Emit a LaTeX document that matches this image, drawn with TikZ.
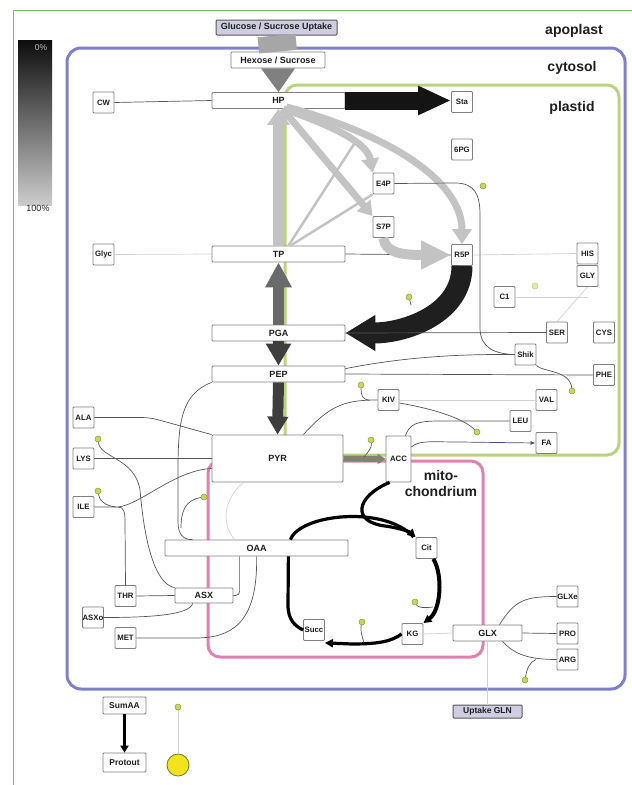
\documentclass[tikz,border=0pt]{standalone}
\usepackage{fontspec}
\setmainfont{Liberation Sans}
\usetikzlibrary{arrows.meta,calc}
\definecolor{ink}{HTML}{1E1E1E}
\definecolor{framegreen}{HTML}{7DBF6E}
\definecolor{cytoblue}{HTML}{7F80CC}
\definecolor{plastgreen}{HTML}{BBD37C}
\definecolor{mitopink}{HTML}{E280B0}
\definecolor{boxline}{HTML}{808080}
\definecolor{fluxlight}{HTML}{C3C3C3}
\definecolor{fluxmid}{HTML}{6A6A6A}
\definecolor{fluxdark}{HTML}{3E3E3E}
\definecolor{linkgray}{HTML}{555555}
\definecolor{faintgray}{HTML}{D2D2D2}
\definecolor{dotfill}{HTML}{C9D65C}
\definecolor{dotline}{HTML}{8E9A3A}
\definecolor{uptakefill}{HTML}{CFCDE2}
\definecolor{sunyellow}{HTML}{F3E31C}

\begin{document}
\begin{tikzpicture}[x=1pt,y=-1pt,
  met/.style={draw=boxline,fill=white,rounded corners=1pt,line width=0.8pt,inner sep=0pt,
    minimum width=21pt,minimum height=21pt,text=ink,font=\bfseries\fontsize{7.8}{8}\selectfont},
  pool/.style={met,minimum width=133pt,minimum height=16pt,font=\bfseries\fontsize{9}{10}\selectfont},
  uptake/.style={pool,fill=uptakefill,draw=ink!75,line width=1pt},
  dot/.style={circle,draw=dotline,fill=dotfill,line width=0.5pt,inner sep=0pt,minimum size=6pt},
  link/.style={draw=linkgray,line width=0.7pt},
  faint/.style={draw=faintgray,line width=0.7pt},
  tca/.style={draw=black,line width=3.2pt},
  region/.style={font=\bfseries\fontsize{14}{15}\selectfont,text=ink}]
  \useasboundingbox (0,0) rectangle (632,785);
  \draw[framegreen,line width=0.8pt] (13,785) -- (13,10.5) -- (632,10.5);

  % legend
  \shade[top color=black!95,bottom color=black!20] (18,40) rectangle (52,205);
  \node[font=\fontsize{8.5}{9}\selectfont,text=black!25] at (41,48) {0\%};
  \node[font=\fontsize{9}{10}\selectfont,text=black!85] at (38,208) {100\%};

  % compartments
  \draw[cytoblue,line width=3pt,rounded corners=14pt] (67,48) rectangle (625,689);
  \draw[plastgreen,line width=3pt,rounded corners=12pt] (285,85) rectangle (619,455);
  \draw[mitopink,line width=3pt,rounded corners=12pt] (208,461) rectangle (483,657);
  \node[region] at (574,31) {apoplast};
  \node[region] at (572,68) {cytosol};
  \node[region] at (572,108) {plastid};
  \node[region,align=center,font=\bfseries\fontsize{14}{16}\selectfont] at (441,483) {mito-\\chondrium};

  % pools
  \node[uptake,minimum width=121pt,minimum height=15pt] (Glucose) at (276.5,27.5) {Glucose / Sucrose Uptake};
  \node[pool,minimum width=94pt] (Hexose) at (278,60) {Hexose / Sucrose};
  \node[pool] (HP) at (278.5,100.5) {HP};
  \node[pool] (TP) at (278.5,254) {TP};
  \node[pool] (PGA) at (278.5,333) {PGA};
  \node[pool] (PEP) at (278.5,374) {PEP};
  \node[pool,minimum width=131pt,minimum height=47pt] (PYR) at (277.5,458.5) {PYR};
  \node[pool,minimum width=183pt] (OAA) at (256.5,548) {OAA};
  \node[pool,minimum width=58pt,minimum height=15pt] (ASX) at (204,595.5) {ASX};
  \node[pool,minimum width=69pt] (GLX) at (487.5,633) {GLX};
  \node[uptake,minimum width=69pt,minimum height=13pt,font=\bfseries\fontsize{8.5}{9}\selectfont] (UptakeGLN) at (487.5,711.5) {Uptake GLN};
  \node[met,minimum width=25pt,minimum height=46pt] (ACC) at (398.5,459) {ACC};
  \node[met,minimum width=43pt,minimum height=17pt,font=\bfseries\fontsize{8.5}{9}\selectfont] (SumAA) at (124.5,705.5) {SumAA};
  \node[met,minimum width=43pt,minimum height=19pt,font=\bfseries\fontsize{8.5}{9}\selectfont] (Protout) at (124.5,762.5) {Protout};
  \foreach \n/\t/\x/\y in {CW/CW/103.5/102.5, Glyc/Glyc/103.5/254.5, Sta/Sta/462/102,
      PG6/6PG/462/149.5, E4P/E4P/383.5/183.5, S7P/S7P/383.5/227, R5P/R5P/462/255,
      HIS/HIS/587.5/253.5, GLY/GLY/587.5/276, C1/C1/504.5/297, SER/SER/557/332.5,
      CYS/CYS/604/332.5, Shik/Shik/525.5/354.5, PHE/PHE/604/375, KIV/KIV/388.5/400,
      VAL/VAL/546.5/400, LEU/LEU/520.5/421, FA/FA/546.5/443, ALA/ALA/83.5/417.5,
      LYS/LYS/83.5/458.5, ILE/ILE/83.5/507, THR/THR/125.5/596, ASXo/ASXo/93/617.5,
      MET/MET/125.5/638, Cit/Cit/426.5/548, KG/KG/412.5/634, Succ/Succ/314/630,
      GLXe/GLXe/567.5/596.5, PRO/PRO/567.5/633.5, ARG/ARG/567.5/659.5}
    \node[met] (\n) at (\x,\y) {\t};
  \foreach \n/\x/\y in {dPG/483/186, dR5P/409/297, dShik/572/391, dKIV/361/385,
      dLEU/477/432, dACC/371/440, dLYS/98/439, dILE/98/491, dMito/204/497,
      dKG/415/602, dSucc/362/622, dARG/525/680, dSum/178/707}
    \node[dot] (\n) at (\x,\y) {};
  \node[dot,opacity=0.5] (dC1) at (535,286) {};
  \node[circle,draw=dotline!80!black,fill=sunyellow,line width=0.8pt,minimum size=22pt,inner sep=0pt] (Sun) at (178,765) {};

  % uptake
  \draw[line width=38pt,draw=black!35] (Glucose.south) -- (Hexose.north);
  \fill[black!50] ($(Hexose.south)+(-17,0)$) -- ($(Hexose.south)+(17,0)$) -- (HP.north) -- cycle;

  % plastid fluxes
  \draw[line width=18pt,black!92,-{Triangle[length=33pt,width=27pt]}] (HP.east) -- (HP.east -| Sta.west);
  \draw[line width=2.5pt,fluxlight] ($(TP.north)+(10,0)$) -- (356,141);
  \draw[line width=2.5pt,fluxlight] ($(TP.north)+(12,0)$) -- (E4P.south west);
  \draw[line width=7pt,fluxlight,-{Triangle[length=14pt,width=17pt]}] ($(HP.south)+(4,0)$) -- (S7P.north west);
  \draw[line width=7pt,fluxlight,-{Triangle[length=14pt,width=17pt]}] ($(HP.south)+(5,0)$) .. controls (345,130) and (368,146) .. (E4P.north west);
  \draw[line width=7pt,fluxlight,-{Triangle[length=15pt,width=19pt]}] ($(HP.south)+(8,-2)$) .. controls (400,138) and (462,185) .. (R5P.north);
  \draw[link] (TP.east) -- (R5P.west);
  \draw[line width=10pt,fluxlight,-{Triangle[length=30pt,width=27pt]}] (S7P.south) .. controls (385,252) and (400,255) .. (R5P.west);
  \draw[line width=11pt,fluxlight,-{Triangle[length=16pt,width=22pt]}] (TP.north) -- (HP.south);
  \draw[line width=11pt,fluxmid,-{Triangle[length=25pt,width=25pt]}] (PGA.north) -- (TP.south);
  \draw[line width=11pt,fluxdark,-{Triangle[length=22pt,width=24pt]}] (PGA.south) -- (PEP.north);
  \draw[line width=11pt,fluxdark,-{Triangle[length=18pt,width=20pt]}] (PEP.south) -- (PYR.north);
  \draw[line width=21pt,black!88,-{Triangle[length=30pt,width=34pt]}] (R5P.south) .. controls +(0,48) and +(60,0) .. (PGA.east);
  \draw[link] (dR5P) -- ++(2,8);

  % thin links, plastid side
  \draw[link] (CW.east) -- (HP.west);
  \draw[faint] (Glyc.east) -- (TP.west);
  \draw[faint] (R5P.east) -- (HIS.west);
  \draw[faint] (C1.east) -- (C1.east -| GLY.south);
  \draw[faint] (SER.north) -- (GLY.south);
  \draw[link] (PGA.east) -- (SER.west);
  \draw[link] (PEP.east) -- (PHE.west);
  \draw[link] ($(PEP.north east)+(0,3)$) .. controls (400,358) and (450,354) .. (Shik.west);
  \draw[link] (E4P.east) -- (455,183) .. controls (475,183) and (480,195) .. (480,215)
    -- (480,328) .. controls (480,348) and (495,354) .. (Shik.west);
  \draw[link] (Shik.south east) .. controls (542,372) and (570,370) .. (dShik);
  \draw[link] ($(PYR.north east)+(-40,0)$) .. controls (330,405) and (345,400) .. (KIV.west);
  \draw[link] (dKIV) .. controls (361,395) and (362,400) .. (370,400);
  \draw[faint] (KIV.east) -- (VAL.west);
  \draw[link] ($(KIV.east)+(0,3)$) .. controls (440,410) and (465,420) .. (dLEU);
  \draw[link] ($(ACC.north east)+(-6,0)$) .. controls (410,424) and (416,421) .. (440,421) -- (LEU.west);
  \draw[link,draw=cytoblue!60!black,-{Latex[length=5pt,width=4pt]}] ($(ACC.east)+(0,-12)$) .. controls (420,440) and (430,442) .. (460,442) -- (FA.west);
  \draw[line width=6pt,draw=fluxmid!75!plastgreen,-{Triangle[length=8pt,width=10pt]}] (PYR.east) -- (ACC.west);
  \draw[link] (dACC) .. controls (372,448) and (368,452) .. (364,457);

  % thin links, cytosol side
  \draw[link,rounded corners=8pt] (ALA.east) -- (150,417.5) -- (PYR.north west);
  \draw[link] (LYS.east) -- (LYS.east -| PYR.west);
  \draw[link] (ILE.east) -- (118,507) .. controls (140,505) and (175,470) .. ($(PYR.west)+(0,10)$);
  \draw[link] (dILE) .. controls (99,500) and (105,506) .. (116,507);
  \draw[link] (118,507) .. controls (124,507) and (125,512) .. (125,522) -- (THR.north);
  \draw[link] (dLYS) .. controls (100,458) and (135,458) .. (140,490)
    .. controls (146,560) and (160,585) .. (ASX.north west);
  \draw[link] (ASX.west) -- (THR.east);
  \draw[link] ($(ASX.south west)+(18,0)$) .. controls (190,615) and (150,617.5) .. (ASXo.east);
  \draw[link,rounded corners=4pt] ($(OAA.south west)+(75,0)$) |- (ASX.east);
  \draw[link] ($(OAA.south west)+(92,0)$) .. controls (258,625) and (230,638) .. (195,638) -- (MET.east);
  \draw[link] (PEP.south west) .. controls (182,394) and (178,420) .. (178,470) -- (178,522)
    .. controls (178,535) and (184,540) .. ($(OAA.north west)+(28,0)$);
  \draw[link] (dMito) .. controls (186,500) and (181,510) .. (181,528);
  \draw[faint] ($(PYR.south west)+(32,0)$) .. controls (222,500) and (222,525) .. ($(OAA.north west)+(70,0)$);

  % mitochondrion
  \draw[tca,-{Triangle[length=8pt,width=8pt]}] ($(ACC.south west)+(4,0)$) .. controls (355,497) and (352,522) .. (385,526)
    .. controls (400,528) and (410,532) .. (Cit.north west);
  \draw[tca] ($(OAA.north east)+(-58,0)$) .. controls (300,514) and (385,505) .. ($(Cit.north west)+(-2,0)$);
  \draw[tca,line width=4pt,-{Triangle[length=8pt,width=8pt]}] ($(Cit.south east)+(-4,0)$) .. controls (443,575) and (441,610) .. (KG.north east);
  \draw[link] (dKG) .. controls (418,608) and (425,608) .. (433,607);
  \draw[tca,-{Triangle[length=8pt,width=8pt]}] (KG.west) .. controls (392,641) and (380,644) .. (352,644) -- ($(Succ.south east)+(0,2)$);
  \draw[link] (dSucc) .. controls (360,630) and (362,636) .. (364,643);
  \draw[tca] ($(OAA.south east)+(-60,0)$) -- (288,605) .. controls (288,620) and (295,626) .. (Succ.west);
  \draw[faint] (KG.east) -- (GLX.west);

  % glutamate branch
  \draw[link] ($(GLX.north)+(12,0)$) .. controls (515,600) and (525,596.5) .. (GLXe.west);
  \draw[link] (GLX.east) -- (PRO.west);
  \draw[link] ($(GLX.south)+(15,0)$) .. controls (515,655) and (530,659.5) .. (ARG.west);
  \draw[link] (dARG) .. controls (527,668) and (530,662) .. (536,659.5);
  \draw[faint] (GLX.south) -- (UptakeGLN.north);

  % protein output
  \draw[black,line width=2.5pt,-{Triangle[length=7pt,width=8pt]}] (SumAA.south) -- (Protout.north);
  \draw[faint] (dSum) -- (Sun);
\end{tikzpicture}
\end{document}
